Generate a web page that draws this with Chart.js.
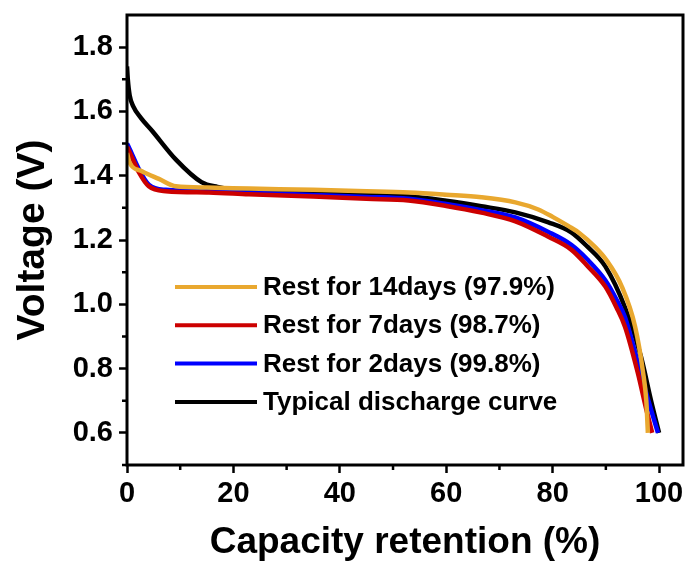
<!DOCTYPE html>
<html>
<head>
<meta charset="utf-8">
<script src="https://cdn.jsdelivr.net/npm/chart.js@4.4.0/dist/chart.umd.min.js"></script>
<style>
  html, body { margin: 0; padding: 0; background: #fff; }
  canvas { display: block; }
</style>
</head>
<body>
<canvas id="chart" width="688" height="572"></canvas>
<script>
// Discharge curves, capacity retention (%) vs voltage (V)
const labels = ['Rest for 14days (97.9%)', 'Rest for 7days (98.7%)', 'Rest for 2days (99.8%)', 'Typical discharge curve'];
const colors = ['#E9A82F', '#CC0000', '#0000FF', '#000000'];

const x14 = [0, 0.5, 2.8, 6, 9.2, 15, 23, 35, 45, 53, 60, 66.6, 73, 77.3, 80, 83, 85, 88, 90, 93, 95.5, 97, 97.6, 97.9];
const v14 = [1.47, 1.44, 1.414, 1.39, 1.367, 1.363, 1.36, 1.356, 1.352, 1.348, 1.341, 1.333, 1.317, 1.295, 1.272, 1.243, 1.222, 1.178, 1.14, 1.055, 0.93, 0.787, 0.7, 0.6];

const x7 = [0, 0.3, 2.25, 4.1, 7.3, 15.4, 22.9, 35, 45, 52.9, 60, 66.6, 73, 79.2, 83.5, 86.5, 89.9, 92, 93.6, 96, 97.5, 98.7];
const v7 = [1.49, 1.48, 1.41, 1.367, 1.352, 1.348, 1.342, 1.335, 1.328, 1.323, 1.306, 1.285, 1.258, 1.21, 1.17, 1.12, 1.055, 0.99, 0.93, 0.787, 0.68, 0.6];

const x2 = [0, 0.3, 2.25, 4.1, 7.3, 15.4, 22.9, 35, 45, 52.9, 60, 66.6, 73, 79.2, 83.5, 86.5, 89.9, 92, 93.6, 96, 98, 99.8];
const v2 = [1.5, 1.49, 1.42, 1.372, 1.356, 1.352, 1.347, 1.34, 1.334, 1.328, 1.312, 1.293, 1.27, 1.225, 1.185, 1.14, 1.075, 1.015, 0.96, 0.82, 0.7, 0.6];

const xTyp = [0, 0.15, 0.5, 1.2, 2.6, 4.7, 9.2, 14, 17, 22.9, 35, 45, 52.9, 60, 66.6, 73, 79.2, 83.5, 86.5, 89.9, 93.6, 96.6, 98.5, 100];
const vTyp = [1.74, 1.70, 1.65, 1.615, 1.58, 1.54, 1.45, 1.38, 1.365, 1.352, 1.345, 1.34, 1.336, 1.322, 1.305, 1.286, 1.255, 1.224, 1.18, 1.118, 0.99, 0.837, 0.7, 0.6];

const xTicks = [0, 20, 40, 60, 80, 100];
const xTickLabels = ['0', '20', '40', '60', '80', '100'];
const xMinor = [10, 30, 50, 70, 90];
const yTicks = [0.6, 0.8, 1.0, 1.2, 1.4, 1.6, 1.8];
const yTickLabels = ['0.6', '0.8', '1.0', '1.2', '1.4', '1.6', '1.8'];
const yMinor = [0.5, 0.7, 0.9, 1.1, 1.3, 1.5, 1.7];

const FONT = 'Arial, "Liberation Sans", sans-serif';

function pts(xs, ys) {
  return xs.map((x, i) => ({ x: x, y: ys[i] }));
}

const series = [[x14, v14], [x7, v7], [x2, v2], [xTyp, vTyp]];

// frame, minor ticks and the in-plot legend
const extras = {
  id: 'extras',
  afterDraw(chart) {
    const ctx = chart.ctx;
    const a = chart.chartArea;
    const xs = chart.scales.x, ys = chart.scales.y;
    ctx.save();
    ctx.strokeStyle = '#000';
    ctx.lineWidth = 3;
    ctx.strokeRect(a.left, a.top, a.right - a.left, a.bottom - a.top);

    ctx.lineWidth = 2.5;
    ctx.beginPath();
    xMinor.forEach(v => {
      const px = xs.getPixelForValue(v);
      ctx.moveTo(px, a.bottom);
      ctx.lineTo(px, a.bottom + 5);
    });
    yMinor.forEach(v => {
      const py = ys.getPixelForValue(v);
      ctx.moveTo(a.left, py);
      ctx.lineTo(a.left - 5, py);
    });
    ctx.stroke();

    // legend
    ctx.font = 'bold 26px ' + FONT;
    ctx.textBaseline = 'middle';
    ctx.textAlign = 'left';
    chart.data.datasets.forEach((ds, i) => {
      const y = a.top + 272 + i * 38.3;
      ctx.strokeStyle = ds.borderColor;
      ctx.lineWidth = 4;
      ctx.beginPath();
      ctx.moveTo(a.left + 48, y);
      ctx.lineTo(a.left + 130, y);
      ctx.stroke();
      ctx.fillStyle = '#000';
      ctx.fillText(ds.label, a.left + 136, y + 1);
    });
    ctx.restore();
  }
};

new Chart(document.getElementById('chart'), {
  type: 'line',
  data: {
    datasets: series.map((s, i) => ({
      label: labels[i],
      data: pts(s[0], s[1]),
      borderColor: colors[i],
      backgroundColor: colors[i],
      borderWidth: 4.5,
      pointRadius: 0,
      cubicInterpolationMode: 'monotone',
      fill: false
    }))
  },
  options: {
    responsive: false,
    animation: false,
    layout: { padding: { top: 15, right: 5, left: 0, bottom: 0 } },
    plugins: { legend: { display: false }, tooltip: { enabled: false } },
    scales: {
      x: {
        type: 'linear',
        min: 0,
        max: 104.5,
        afterBuildTicks: s => { s.ticks = xTicks.map(v => ({ value: v })); },
        afterFit: s => { s.height = 107; s.paddingLeft = 0; s.paddingRight = 0; },
        border: { display: false },
        grid: { drawOnChartArea: false, drawTicks: true, tickLength: 8, tickWidth: 2.5, tickColor: '#000' },
        ticks: {
          color: '#000',
          font: { family: FONT, size: 29, weight: 'bold' },
          padding: 4,
          maxRotation: 0,
          callback: (v, i) => xTickLabels[i]
        },
        title: {
          display: true,
          text: 'Capacity retention (%)',
          color: '#000',
          font: { family: FONT, size: 37, weight: 'bold' },
          padding: { top: 0, bottom: 7 }
        }
      },
      y: {
        type: 'linear',
        min: 0.5,
        max: 1.9,
        afterBuildTicks: s => { s.ticks = yTicks.map(v => ({ value: v })); },
        afterFit: s => { s.width = 127; s.paddingTop = 0; s.paddingBottom = 0; },
        border: { display: false },
        grid: { drawOnChartArea: false, drawTicks: true, tickLength: 8, tickWidth: 2.5, tickColor: '#000' },
        ticks: {
          color: '#000',
          font: { family: FONT, size: 29, weight: 'bold' },
          padding: 6,
          callback: (v, i) => yTickLabels[i]
        },
        title: {
          display: true,
          text: 'Voltage (V)',
          color: '#000',
          font: { family: FONT, size: 39, weight: 'bold' },
          padding: { top: 10, bottom: 0 }
        }
      }
    }
  },
  plugins: [extras]
});
</script>
</body>
</html>
